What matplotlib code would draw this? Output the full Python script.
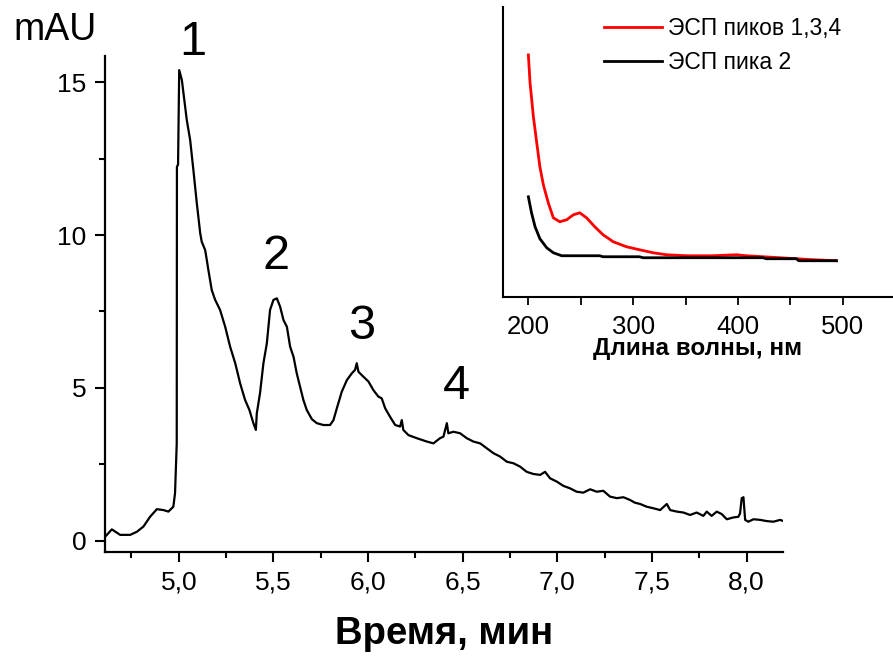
import matplotlib
matplotlib.use("Agg")
import matplotlib.pyplot as plt

plt.rcParams['font.family'] = ['Liberation Sans', 'DejaVu Sans']

# ---- Main chromatogram (time, min ; signal, mAU) ----
time_min = [4.611, 4.646, 4.690, 4.743, 4.778, 4.813, 4.848, 4.884, 4.919, 4.945,
            4.971, 4.980, 4.989, 4.990, 4.996, 5.002, 5.016, 5.042, 5.060, 5.077,
            5.095, 5.113, 5.121, 5.139, 5.148, 5.156, 5.174, 5.192, 5.218, 5.245,
            5.271, 5.298, 5.324, 5.350, 5.373, 5.394, 5.407, 5.412, 5.429, 5.447,
            5.465, 5.482, 5.500, 5.518, 5.535, 5.553, 5.571, 5.588, 5.606, 5.623,
            5.641, 5.658, 5.676, 5.703, 5.729, 5.764, 5.799, 5.817, 5.835, 5.861,
            5.888, 5.914, 5.931, 5.940, 5.949, 5.975, 6.002, 6.028, 6.054, 6.072,
            6.090, 6.116, 6.143, 6.169, 6.178, 6.186, 6.213, 6.257, 6.310, 6.345,
            6.380, 6.398, 6.416, 6.424, 6.451, 6.486, 6.521, 6.556, 6.592, 6.627,
            6.662, 6.697, 6.733, 6.768, 6.803, 6.838, 6.873, 6.909, 6.935, 6.961,
            6.997, 7.032, 7.067, 7.102, 7.137, 7.173, 7.208, 7.243, 7.278, 7.314,
            7.349, 7.384, 7.410, 7.437, 7.472, 7.507, 7.543, 7.578, 7.596, 7.631,
            7.666, 7.701, 7.736, 7.771, 7.789, 7.815, 7.842, 7.868, 7.895, 7.930,
            7.956, 7.965, 7.974, 7.983, 7.992, 8.009, 8.036, 8.071, 8.106, 8.141,
            8.177, 8.190]
signal_mau = [0.14, 0.38, 0.20, 0.20, 0.30, 0.47, 0.79, 1.04, 1.01, 0.96,
              1.12, 1.56, 3.19, 12.23, 12.30, 15.39, 15.07, 13.76, 13.10, 12.12,
              11.04, 10.06, 9.78, 9.51, 9.18, 8.86, 8.20, 7.88, 7.55, 7.00,
              6.35, 5.81, 5.15, 4.61, 4.28, 3.85, 3.63, 4.17, 4.83, 5.81,
              6.46, 7.55, 7.88, 7.93, 7.66, 7.22, 7.00, 6.35, 6.02, 5.48,
              5.04, 4.61, 4.28, 3.98, 3.85, 3.79, 3.79, 3.95, 4.34, 4.88,
              5.26, 5.48, 5.59, 5.81, 5.53, 5.37, 5.21, 4.93, 4.72, 4.66,
              4.34, 4.06, 3.79, 3.74, 3.95, 3.63, 3.46, 3.36, 3.25, 3.19,
              3.36, 3.41, 3.85, 3.52, 3.57, 3.52, 3.36, 3.25, 3.19, 3.03,
              2.87, 2.76, 2.59, 2.54, 2.43, 2.26, 2.19, 2.16, 2.26, 2.05,
              1.94, 1.80, 1.72, 1.61, 1.58, 1.69, 1.61, 1.64, 1.45, 1.40,
              1.43, 1.34, 1.25, 1.21, 1.12, 1.07, 1.01, 1.21, 1.01, 0.96,
              0.93, 0.85, 0.93, 0.82, 0.96, 0.82, 0.96, 0.88, 0.71, 0.77,
              0.79, 0.90, 1.40, 1.43, 0.69, 0.63, 0.71, 0.69, 0.65, 0.63,
              0.69, 0.66]

x_ticks = [5.0, 5.5, 6.0, 6.5, 7.0, 7.5, 8.0]
x_tick_labels = ["5,0", "5,5", "6,0", "6,5", "7,0", "7,5", "8,0"]
y_ticks = [0, 5, 10, 15]
y_tick_labels = ["0", "5", "10", "15"]

peak_labels = ["1", "2", "3", "4"]
peak_label_t = [5.076, 5.514, 5.968, 6.465]
peak_label_v = [16.3, 9.3, 7.0, 5.05]

# ---- Inset: UV spectra (wavelength, nm ; absorbance, a.u.) ----
wl_red = [200, 201.6, 204.8, 208, 211, 214.3, 219, 223.8, 230, 236.5, 243, 249,
          255.5, 263.4, 271.3, 281, 293.6, 306, 319, 331.6, 350.7, 376, 398.6,
          408, 424, 440, 456, 472, 494]
abs_red = [2.42, 2.14, 1.80, 1.54, 1.30, 1.12, 0.94, 0.79, 0.75, 0.77, 0.82, 0.84,
           0.79, 0.70, 0.62, 0.55, 0.50, 0.47, 0.44, 0.42, 0.41, 0.41, 0.42,
           0.41, 0.40, 0.39, 0.38, 0.37, 0.36]
wl_black = [200, 203, 206.4, 211, 217.5, 223.8, 231.8, 249, 268, 271.3, 306, 309.5,
            344.5, 424, 427, 456, 458, 494]
abs_black = [1.00, 0.84, 0.70, 0.58, 0.49, 0.44, 0.41, 0.41, 0.41, 0.40, 0.40, 0.39,
             0.39, 0.39, 0.38, 0.38, 0.36, 0.36]
inset_ticks = [200, 300, 400, 500]
legend_labels = ["ЭСП пиков 1,3,4", "ЭСП пика 2"]

W, H = 893, 657
fig = plt.figure(figsize=(W / 100, H / 100), dpi=100)

# main axes
ax = fig.add_axes([105 / W, 1 - 552 / H, (783 - 105) / W, (552 - 56) / H])
ax.plot(time_min, signal_mau, color='black', lw=1.6)
ax.set_xlim(4.61, 8.192)
ax.set_ylim(-0.36, 15.85)
ax.spines['top'].set_visible(False)
ax.spines['right'].set_visible(False)
for s in ('left', 'bottom'):
    ax.spines[s].set_linewidth(1.6)
ax.set_xticks(x_ticks)
ax.set_xticklabels(x_tick_labels)
ax.set_yticks(y_ticks)
ax.set_yticklabels(y_tick_labels)
ax.set_xticks([4.75, 5.25, 5.75, 6.25, 6.75, 7.25, 7.75], minor=True)
ax.set_yticks([2.5, 7.5, 12.5], minor=True)
ax.tick_params(which='major', direction='out', length=7.5, width=1.5,
               labelsize=19, pad=6)
ax.tick_params(which='minor', direction='out', length=4, width=1.5)
ax.set_xlabel("Время, мин", fontsize=27.5, fontweight='bold', labelpad=15)

for lab, t, v in zip(peak_labels, peak_label_t, peak_label_v):
    ax.text(t, v, lab, fontsize=35, ha='center', va='center', clip_on=False)

fig.text(13 / W, 1 - 40 / H, "mAU", fontsize=27, ha='left', va='baseline')

# inset axes
ax2 = fig.add_axes([502.7 / W, 1 - 296.7 / H, (W - 502.7) / W, (296.7 - 7) / H])
ax2.plot(wl_red, abs_red, color='#ff0000', lw=2.0, label=legend_labels[0])
ax2.plot(wl_black, abs_black, color='black', lw=2.0, label=legend_labels[1])
ax2.set_xlim(175.5, 548)
ax2.set_ylim(0, 2.90)
ax2.spines['top'].set_visible(False)
ax2.spines['right'].set_visible(False)
for s in ('left', 'bottom'):
    ax2.spines[s].set_linewidth(1.5)
ax2.set_yticks([])
ax2.set_xticks(inset_ticks)
ax2.set_xticks([250, 350, 450], minor=True)
ax2.tick_params(which='major', direction='out', length=6, width=1.3,
                labelsize=18.5, pad=7)
ax2.tick_params(which='minor', direction='out', length=6, width=1.3)
ax2.set_xlabel("Длина волны, нм", fontsize=17.5, fontweight='bold', labelpad=-1)
ax2.patch.set_alpha(0)

ax2.legend(loc='upper left', bbox_to_anchor=(604 / W, 1 - 17 / H),
           bbox_transform=fig.transFigure, frameon=False, fontsize=16.5,
           handlelength=2.55, handletextpad=0.25, labelspacing=0.5,
           borderpad=0, borderaxespad=0)

fig.savefig("out.png", dpi=100)
